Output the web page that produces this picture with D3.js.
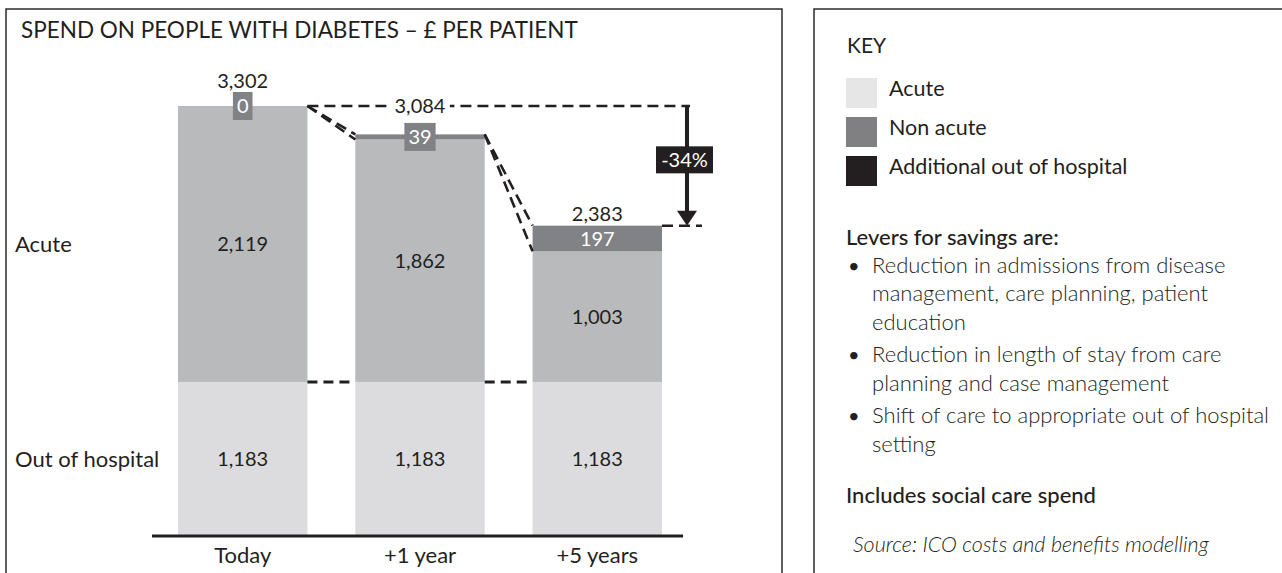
<!DOCTYPE html>
<html>
<head>
<meta charset="utf-8">
<script src="https://cdn.jsdelivr.net/npm/d3@7"></script>
<style>
    body { margin: 0; background: #fff; }
    svg text { font-family: Lato, "Open Sans", sans-serif; fill: #231f20; }
</style>
</head>
<body>
<svg id="chart" width="1282" height="573"></svg>
<script>
// Chart values
var categories = ["Today", "+1 year", "+5 years"];
var outOfHospital = [1183, 1183, 1183];
var acute = [2119, 1862, 1003];
var nonAcute = [0, 39, 197];
var totals = [3302, 3084, 2383];
var changeLabel = "-34%";
var rowLabels = ["Acute", "Out of hospital"];
var keyLabels = ["Acute", "Non acute", "Additional out of hospital"];
var leverLines = [
    ["Reduction in admissions from disease", "management, care planning, patient", "education"],
    ["Reduction in length of stay from care", "planning and case management"],
    ["Shift of care to appropriate out of hospital", "setting"]
];

var fmt = d3.format(",");
var svg = d3.select("#chart");
var ink = "#231f20";

// Panel frames
svg.append("rect")
    .attr("x", 6).attr("y", 9)
    .attr("width", 776).attr("height", 620)
    .attr("fill", "none").attr("stroke", "#2b2b2b").attr("stroke-width", 1.5);
svg.append("rect")
    .attr("x", 814).attr("y", 9)
    .attr("width", 520).attr("height", 620)
    .attr("fill", "none").attr("stroke", "#2b2b2b").attr("stroke-width", 1.5);

svg.append("text")
    .attr("x", 21).attr("y", 38)
    .style("font-size", "22.5px")
    .text("SPEND ON PEOPLE WITH DIABETES – £ PER PATIENT");

// Scales
var x = d3.scaleBand()
    .domain(categories)
    .range([178, 662])
    .paddingInner(0.27);

var y = d3.scaleLinear()
    .domain([0, d3.max(totals)])
    .range([536, 106]);

var rows = categories.map(function (c, i) {
    return { cat: c, ooh: outOfHospital[i], acute: acute[i], nonAcute: nonAcute[i] };
});
var keys = ["ooh", "acute", "nonAcute"];
var colour = d3.scaleOrdinal()
    .domain(keys)
    .range(["#dcdcde", "#b9babc", "#818285"]);

var series = d3.stack().keys(keys)(rows);

// Bars
var layer = svg.selectAll(".layer")
    .data(series)
    .enter().append("g")
    .attr("class", "layer")
    .attr("fill", function (d) { return colour(d.key); });

layer.selectAll("rect")
    .data(function (d) { return d; })
    .enter().append("rect")
    .attr("x", function (d) { return x(d.data.cat); })
    .attr("width", x.bandwidth())
    .attr("y", function (d) { return y(d[1]); })
    .attr("height", function (d) { return y(d[0]) - y(d[1]); });

// Dashed guide lines
var bw = x.bandwidth();
var last = categories.length - 1;
var arrowX = x.range()[1] + 25;
var guides = svg.append("g")
    .attr("stroke", ink)
    .attr("stroke-width", 2.6)
    .attr("stroke-dasharray", "11,6")
    .attr("fill", "none");

for (var i = 0; i < last; i++) {
    var x0 = x(categories[i]) + bw, x1 = x(categories[i + 1]);
    // out of hospital level
    guides.append("line")
        .attr("x1", x0).attr("x2", x1)
        .attr("y1", y(outOfHospital[i])).attr("y2", y(outOfHospital[i]))
        .attr("stroke-width", 3)
        .attr("stroke-dasharray", "10,6");
    // step down connectors
    guides.append("line")
        .attr("x1", x0).attr("y1", y(totals[i]))
        .attr("x2", x1).attr("y2", y(totals[i + 1]));
    guides.append("line")
        .attr("x1", x0).attr("y1", y(totals[i]))
        .attr("x2", x1).attr("y2", y(outOfHospital[i + 1] + acute[i + 1]));
}

// reference line at today's total and end level
guides.append("line")
    .attr("x1", x(categories[0]) + bw).attr("x2", arrowX + 3)
    .attr("y1", y(totals[0])).attr("y2", y(totals[0]));
guides.append("line")
    .attr("x1", x(categories[last]) + bw).attr("x2", arrowX + 15)
    .attr("y1", y(totals[last])).attr("y2", y(totals[last]));

// Change arrow
var headH = 15;
svg.append("line")
    .attr("x1", arrowX).attr("x2", arrowX)
    .attr("y1", y(totals[0])).attr("y2", y(totals[last]) - headH + 1)
    .attr("stroke", ink).attr("stroke-width", 4);
svg.append("path")
    .attr("d", "M" + (arrowX - 10) + "," + (y(totals[last]) - headH) +
        "L" + (arrowX + 10) + "," + (y(totals[last]) - headH) +
        "L" + arrowX + "," + y(totals[last]) + "Z")
    .attr("fill", ink);

var midY = (y(totals[0]) + y(totals[last])) / 2 - 6;
svg.append("rect")
    .attr("x", arrowX - 31).attr("y", midY - 13.5)
    .attr("width", 57).attr("height", 27)
    .attr("fill", ink);
svg.append("text")
    .attr("x", arrowX - 2.5).attr("y", midY)
    .attr("dy", "0.36em")
    .attr("text-anchor", "middle")
    .style("font-size", "20px")
    .style("fill", "#fff")
    .text(changeLabel);

// Segment labels
var cx = function (c) { return x(c) + bw / 2; };
[series[0], series[1]].forEach(function (s) {
    svg.append("g").selectAll("text")
        .data(s)
        .enter().append("text")
        .attr("x", function (d) { return cx(d.data.cat); })
        .attr("y", function (d) { return (y(d[0]) + y(d[1])) / 2; })
        .attr("dy", "0.36em")
        .attr("text-anchor", "middle")
        .style("font-size", "20px")
        .text(function (d) { return fmt(d[1] - d[0]); });
});

// Non acute boxes and totals
var boxH = 28;
series[2].forEach(function (d, i) {
    var c = cx(d.data.cat);
    var my = (y(d[0]) + y(d[1])) / 2;
    var t = svg.append("text")
        .attr("x", c).attr("y", my)
        .attr("dy", "0.36em")
        .attr("text-anchor", "middle")
        .style("font-size", "20px")
        .style("fill", "#fff")
        .text(fmt(d[1] - d[0]));
    var w = t.node().getComputedTextLength() + 8;
    if (d[1] - d[0] < 150) {
        svg.insert("rect", function () { return t.node(); })
            .attr("x", c - w / 2).attr("y", my - boxH / 2)
            .attr("width", w).attr("height", boxH)
            .attr("fill", colour("nonAcute"));
    }
    var boxTop = my - boxH / 2;
    var base = boxTop - 4;
    var refY = y(totals[0]);
    var onRef = i > 0 && base - 16 < refY + 4;
    var tt = svg.append("text")
        .attr("x", c)
        .attr("y", onRef ? refY : base)
        .attr("dy", onRef ? "0.36em" : null)
        .attr("text-anchor", "middle")
        .style("font-size", "20px")
        .text(fmt(totals[i]));
    if (onRef) {
        var bb = tt.node().getBBox();
        svg.insert("rect", function () { return tt.node(); })
            .attr("x", bb.x - 4).attr("y", refY - 4)
            .attr("width", bb.width + 8).attr("height", 8)
            .attr("fill", "#fff");
    }
});

// Row labels
svg.append("text")
    .attr("x", 15).attr("y", (y(series[1][0][0]) + y(series[1][0][1])) / 2)
    .attr("dy", "0.36em")
    .style("font-size", "22px")
    .text(rowLabels[0]);
svg.append("text")
    .attr("x", 15).attr("y", (y(series[0][0][0]) + y(series[0][0][1])) / 2)
    .attr("dy", "0.36em")
    .style("font-size", "22px")
    .text(rowLabels[1]);

// Category axis
var axis = svg.append("g")
    .attr("transform", "translate(0," + y(0) + ")")
    .call(d3.axisBottom(x).tickSize(0).tickPadding(11));
axis.select(".domain").remove();
axis.selectAll("text").style("font-size", "22px");
svg.append("line")
    .attr("x1", x.range()[0] - 26).attr("x2", x.range()[1] + 21)
    .attr("y1", y(0)).attr("y2", y(0))
    .attr("stroke", ink).attr("stroke-width", 3);

// Key panel
svg.append("text").attr("x", 847).attr("y", 53).style("font-size", "21px").text("KEY");
var keyColours = ["#e6e6e7", "#808083", ink];
keyLabels.forEach(function (k, i) {
    svg.append("rect")
        .attr("x", 846).attr("y", 78 + i * 39)
        .attr("width", 31).attr("height", 30)
        .attr("fill", keyColours[i]);
    svg.append("text")
        .attr("x", 889).attr("y", 96 + i * 39)
        .style("font-size", "21.5px")
        .text(k);
});

svg.append("text").attr("x", 846).attr("y", 245)
    .style("font-size", "22px").style("font-weight", 500)
    .text("Levers for savings are:");

var ly = 273;
leverLines.forEach(function (lines) {
    svg.append("text").attr("x", 848).attr("y", ly)
        .style("font-size", "20px").text("•");
    lines.forEach(function (l, j) {
        svg.append("text").attr("x", 872).attr("y", ly)
            .style("font-size", "22px").style("font-weight", 300)
            .text(l);
        ly += 28.3;
    });
    ly += 4.4;
});

svg.append("text").attr("x", 846).attr("y", 503)
    .style("font-size", "22px").style("font-weight", 500)
    .text("Includes social care spend");
svg.append("text").attr("x", 853).attr("y", 552)
    .style("font-size", "21.5px").style("font-style", "italic").style("font-weight", 300)
    .text("Source: ICO costs and benefits modelling");
</script>
</body>
</html>
